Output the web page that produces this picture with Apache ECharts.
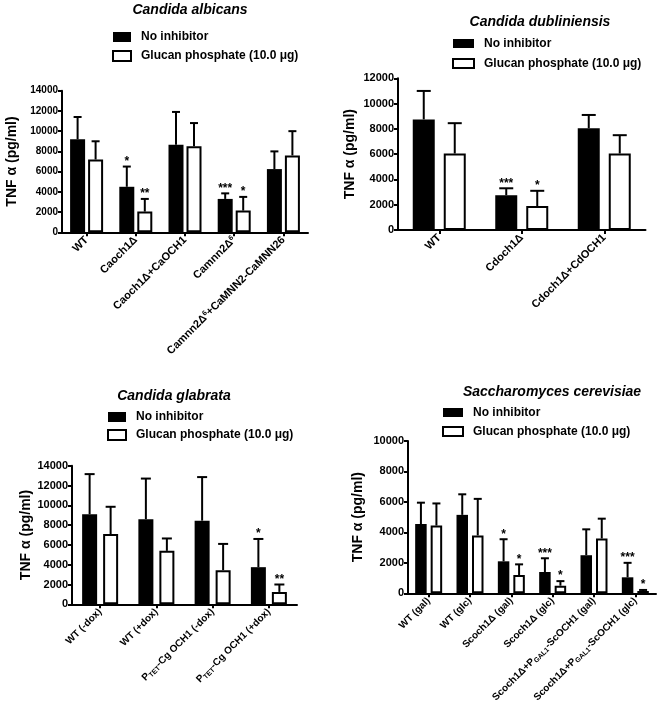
<!DOCTYPE html>
<html><head><meta charset="utf-8">
<script src="https://cdn.jsdelivr.net/npm/echarts@6/dist/echarts.min.js"></script>
<style>html,body{margin:0;padding:0;background:#fff}#c{width:661px;height:712px}</style>
</head><body><div id="c"></div>
<script>
const NAME_NO = 'No inhibitor';
const NAME_GP = 'Glucan phosphate (10.0 μg)';
const Y_NAME = 'TNF α (pg/ml)';

// Panel A – Candida albicans
const titleA = 'Candida albicans';
const catsA = ['WT', 'Caoch1Δ', 'Caoch1Δ+CaOCH1', 'Camnn2Δ{p|6}', 'Camnn2Δ{p|6}+CaMNN2-CaMNN26'];
const noInhA = [9200, 4500, 8650, 3300, 6250];
const noInhSdA = [2200, 2000, 3250, 550, 1750];
const glucA = [7200, 2050, 8500, 2150, 7600];
const glucSdA = [1800, 1250, 2300, 1350, 2400];
const starsNoA = ['', '*', '', '***', ''];
const starsGlA = ['', '**', '', '*', ''];
const ticksA = [0, 2000, 4000, 6000, 8000, 10000, 12000, 14000];

// Panel B – Candida dubliniensis
const titleB = 'Candida dubliniensis';
const catsB = ['WT', 'Cdoch1Δ', 'Cdoch1Δ+CdOCH1'];
const noInhB = [8750, 2750, 8050];
const noInhSdB = [2250, 550, 1050];
const glucB = [6050, 1900, 6050];
const glucSdB = [2400, 1200, 1450];
const starsNoB = ['', '***', ''];
const starsGlB = ['', '*', ''];
const ticksB = [0, 2000, 4000, 6000, 8000, 10000, 12000];

// Panel C – Candida glabrata
const titleC = 'Candida glabrata';
const catsC = ['WT (-dox)', 'WT (+dox)', 'P{s|TET}-Cg OCH1 (-dox)', 'P{s|TET}-Cg OCH1 (+dox)'];
const noInhC = [9100, 8600, 8450, 3750];
const noInhSdC = [4050, 4100, 4400, 2850];
const glucC = [7100, 5400, 3450, 1250];
const glucSdC = [2750, 1250, 2650, 750];
const starsNoC = ['', '', '', '*'];
const starsGlC = ['', '', '', '**'];
const ticksC = [0, 2000, 4000, 6000, 8000, 10000, 12000, 14000];

// Panel D – Saccharomyces cerevisiae
const titleD = 'Saccharomyces cerevisiae';
const catsD = ['WT (gal)', 'WT (glc)', 'Scoch1Δ (gal)', 'Scoch1Δ (glc)', 'Scoch1Δ+P{s|GAL1}-ScOCH1 (gal)', 'Scoch1Δ+P{s|GAL1}-ScOCH1 (glc)'];
const noInhD = [4550, 5150, 2100, 1400, 2500, 1050];
const noInhSdD = [1400, 1350, 1450, 900, 1700, 950];
const glucD = [4450, 3800, 1200, 500, 3600, 150];
const glucSdD = [1450, 2400, 700, 300, 1300, 70];
const starsNoD = ['', '', '*', '***', '', '***'];
const starsGlD = ['', '', '*', '*', '', '*'];
const ticksD = [0, 2000, 4000, 6000, 8000, 10000];

const FONT = '"Liberation Sans", Arial, Helvetica, sans-serif';

const panels = [
  {title: titleA, cats: catsA, no: noInhA, noSd: noInhSdA, gl: glucA, glSd: glucSdA, sNo: starsNoA, sGl: starsGlA, ticks: ticksA,
   grid: {left: 62, top: 90.7, width: 246, height: 141.6}, bw: 15, gap: 3, cap: 4, tickFs: 10, catFs: 11, nameGap: 43,
   titlePos: [190, 12], legend: {left: 112, top: 30, iw: 18, ih: 10, gap: 5}},
  {title: titleB, cats: catsB, no: noInhB, noSd: noInhSdB, gl: glucB, glSd: glucSdB, sNo: starsNoB, sGl: starsGlB, ticks: ticksB,
   grid: {left: 398, top: 78.3, width: 247.5, height: 151.7}, bw: 22, gap: 9, cap: 7, tickFs: 11, catFs: 11, nameGap: 41,
   titlePos: [540, 24], legend: {left: 452, top: 36.5, iw: 21, ih: 9, gap: 6}},
  {title: titleC, cats: catsC, no: noInhC, noSd: noInhSdC, gl: glucC, glSd: glucSdC, sNo: starsNoC, sGl: starsGlC, ticks: ticksC,
   grid: {left: 72, top: 465.7, width: 225, height: 138.6}, bw: 15, gap: 6, cap: 5, tickFs: 11, catFs: 10, nameGap: 38,
   titlePos: [174, 398], legend: {left: 107, top: 410, iw: 18, ih: 10, gap: 4}},
  {title: titleD, cats: catsD, no: noInhD, noSd: noInhSdD, gl: glucD, glSd: glucSdD, sNo: starsNoD, sGl: starsGlD, ticks: ticksD,
   grid: {left: 408, top: 441, width: 248, height: 152.3}, bw: 11.5, gap: 4, cap: 4, tickFs: 11, catFs: 10, nameGap: 43,
   titlePos: [552, 394], legend: {left: 442, top: 405.5, iw: 20, ih: 9, gap: 5}}
];

const option = {
  backgroundColor: '#fff',
  animation: false,
  textStyle: {fontFamily: FONT},
  title: [], legend: [], grid: [], xAxis: [], yAxis: [], series: []
};

function errSeries(idx, vals, sds, stars, off, cap) {
  return {
    type: 'custom', xAxisIndex: idx, yAxisIndex: idx, z: 5, silent: true,
    data: vals.map((v, i) => [i, v, sds[i]]),
    renderItem: function (params, api) {
      const i = api.value(0), v = api.value(1), e = api.value(2);
      const p0 = api.coord([i, v]);
      const p1 = api.coord([i, v + e]);
      const x = p0[0] + off;
      const children = [
        {type: 'line', shape: {x1: x, y1: p0[1], x2: x, y2: p1[1]}, style: {stroke: '#000', lineWidth: 2}},
        {type: 'line', shape: {x1: x - cap, y1: p1[1], x2: x + cap, y2: p1[1]}, style: {stroke: '#000', lineWidth: 2}}
      ];
      const s = stars[params.dataIndex];
      if (s) {
        children.push({type: 'text', x: x, y: p1[1] + 1,
          style: {text: s, fill: '#000', font: 'bold 12px ' + FONT, align: 'center', verticalAlign: 'bottom',
                  textAlign: 'center', textVerticalAlign: 'bottom'}});
      }
      return {type: 'group', children: children};
    }
  };
}

panels.forEach((p, idx) => {
  option.title.push({
    text: p.title, left: p.titlePos[0], top: p.titlePos[1] - 9, textAlign: 'center', padding: 0,
    textStyle: {fontSize: 14, fontStyle: 'italic', fontWeight: 'bold', color: '#000', fontFamily: FONT}
  });
  option.legend.push({
    left: p.legend.left, top: p.legend.top, orient: 'vertical', padding: 0,
    itemWidth: p.legend.iw, itemHeight: p.legend.ih, itemGap: p.legend.gap, icon: 'rect',
    selectedMode: false, data: [NAME_NO, NAME_GP],
    textStyle: {fontSize: 12, fontWeight: 'bold', color: '#000', lineHeight: 14, padding: [0, 0, 0, 5], fontFamily: FONT}
  });
  option.grid.push(Object.assign({containLabel: false}, p.grid));
  const maxV = p.ticks[p.ticks.length - 1];
  option.yAxis.push({
    type: 'value', gridIndex: idx, min: p.ticks[0], max: maxV, interval: p.ticks[1] - p.ticks[0],
    axisLine: {show: true, lineStyle: {color: '#000', width: 2}},
    axisTick: {show: true, length: 4, lineStyle: {color: '#000', width: 2}},
    splitLine: {show: false},
    axisLabel: {color: '#000', fontWeight: 'bold', fontSize: p.tickFs, margin: 4, fontFamily: FONT,
      formatter: v => String(v)},
    name: Y_NAME, nameLocation: 'middle', nameRotate: 90, nameGap: p.nameGap,
    nameTextStyle: {fontWeight: 'bold', fontSize: 14, color: '#000', fontFamily: FONT}
  });
  option.xAxis.push({
    type: 'category', gridIndex: idx, data: p.cats,
    axisLine: {show: true, lineStyle: {color: '#000', width: 2}},
    axisTick: {show: true, alignWithLabel: true, length: 4, lineStyle: {color: '#000', width: 2}},
    axisLabel: {rotate: 45, interval: 0, color: '#000', fontWeight: 'bold', fontSize: p.catFs, margin: 6, fontFamily: FONT,
      rich: {
        s: {fontSize: 7, fontWeight: 'bold', color: '#000', verticalAlign: 'bottom', padding: [5, 0, 0, 0], fontFamily: FONT},
        p: {fontSize: 7, fontWeight: 'bold', color: '#000', verticalAlign: 'top', padding: [0, 0, 5, 0], fontFamily: FONT}
      }}
  });
  const gapPct = (p.gap / p.bw * 100) + '%';
  option.series.push({
    type: 'bar', name: NAME_NO, xAxisIndex: idx, yAxisIndex: idx, data: p.no, barWidth: p.bw, barGap: gapPct,
    itemStyle: {color: '#000'}, z: 2
  });
  option.series.push({
    type: 'bar', name: NAME_GP, xAxisIndex: idx, yAxisIndex: idx, data: p.gl, barWidth: p.bw, barGap: gapPct,
    itemStyle: {color: '#fff', borderColor: '#000', borderWidth: 2}, z: 2
  });
  const off = (p.bw + p.gap) / 2;
  option.series.push(errSeries(idx, p.no, p.noSd, p.sNo, -off, p.cap));
  option.series.push(errSeries(idx, p.gl, p.glSd, p.sGl, off, p.cap));
});

const chart = echarts.init(document.getElementById('c'), null, {renderer: 'canvas'});
chart.setOption(option);
</script>
</body></html>
